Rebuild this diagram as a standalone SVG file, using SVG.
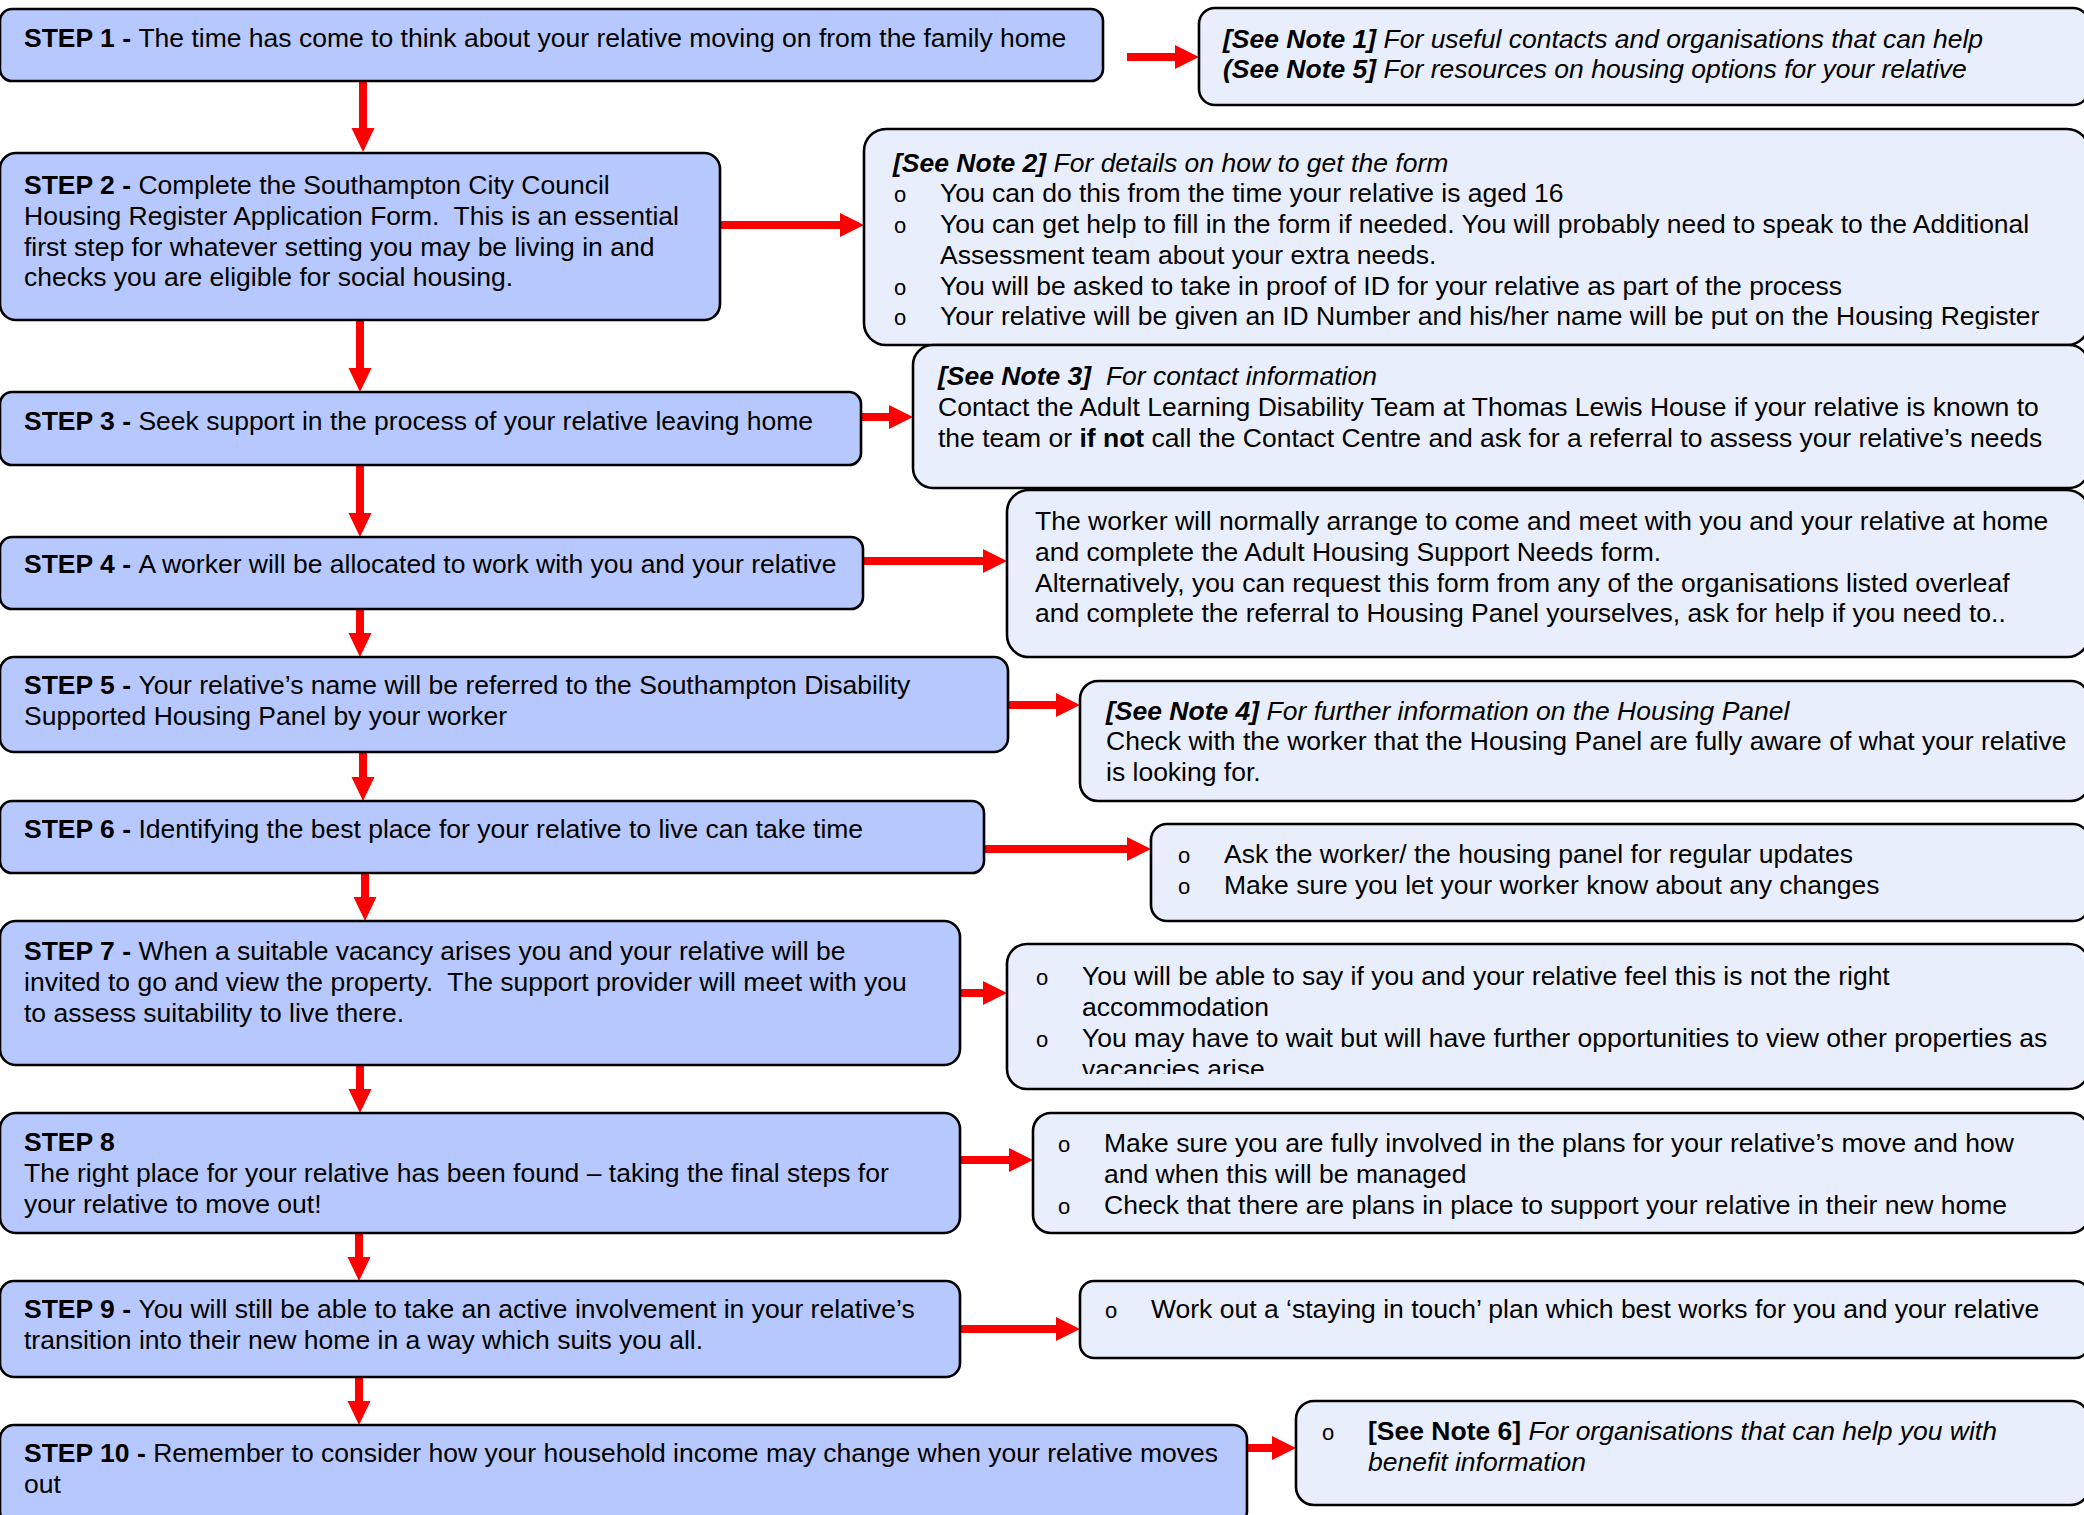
<svg xmlns="http://www.w3.org/2000/svg" width="2084" height="1515" viewBox="0 0 2084 1515" xml:space="preserve">
<style>
.step{fill:#B6C8FD;stroke:#000;stroke-width:2.6}
.note{fill:#E9EEFC;stroke:#000;stroke-width:2.6}
text{font-family:"Liberation Sans",Arial,sans-serif;font-size:26.5px;fill:#000;white-space:pre}
.b{font-weight:bold}
.i{font-style:italic}
.bi{font-weight:bold;font-style:italic}
.bul{font-size:22px}
.arr{fill:#FF0000;stroke:none}
</style>
<defs>
<clipPath id="clipN2"><rect x="860" y="120" width="1230" height="209"/></clipPath>
<clipPath id="clipN7"><rect x="1000" y="940" width="1090" height="134"/></clipPath>
</defs>
<rect width="2084" height="1515" fill="#FFFFFF"/>

<g id="connectors">
<polygon class="arr" points="359,81 367,81 367,128 374.5,128 363,152 351.5,128 359,128"/>
<polygon class="arr" points="356,320 364,320 364,368 371.5,368 360,392 348.5,368 356,368"/>
<polygon class="arr" points="356,465 364,465 364,513 371.5,513 360,537 348.5,513 356,513"/>
<polygon class="arr" points="356,609 364,609 364,633 371.5,633 360,657 348.5,633 356,633"/>
<polygon class="arr" points="359,752 367,752 367,777 374.5,777 363,801 351.5,777 359,777"/>
<polygon class="arr" points="361,873 369,873 369,897 376.5,897 365,921 353.5,897 361,897"/>
<polygon class="arr" points="356,1065 364,1065 364,1089 371.5,1089 360,1113 348.5,1089 356,1089"/>
<polygon class="arr" points="355,1233 363,1233 363,1257 370.5,1257 359,1281 347.5,1257 355,1257"/>
<polygon class="arr" points="355,1377 363,1377 363,1401 370.5,1401 359,1425 347.5,1401 355,1401"/>

<polygon class="arr" points="1127,53 1175,53 1175,45 1199,57 1175,69 1175,61 1127,61"/>
<polygon class="arr" points="720,221 840,221 840,213 864,225 840,237 840,229 720,229"/>
<polygon class="arr" points="862,413 889,413 889,405 913,417 889,429 889,421 862,421"/>
<polygon class="arr" points="864,557 983,557 983,549 1007,561 983,573 983,565 864,565"/>
<polygon class="arr" points="1008,701 1056,701 1056,693 1080,705 1056,717 1056,709 1008,709"/>
<polygon class="arr" points="984,845 1127,845 1127,837 1151,849 1127,861 1127,853 984,853"/>
<polygon class="arr" points="960,989 983,989 983,981 1007,993 983,1005 983,997 960,997"/>
<polygon class="arr" points="960,1156 1009,1156 1009,1148 1033,1160 1009,1172 1009,1164 960,1164"/>
<polygon class="arr" points="960,1325 1056,1325 1056,1317 1080,1329 1056,1341 1056,1333 960,1333"/>
<polygon class="arr" points="1247,1444 1272,1444 1272,1436 1296,1448 1272,1460 1272,1452 1247,1452"/>
</g>

<g id="step1">
<rect class="step" x="0" y="9" width="1103" height="72" rx="12"/>
<text x="24" y="47"><tspan class="b">STEP 1 - </tspan>The time has come to think about your relative moving on from the family home</text>
</g>
<g id="step2">
<rect class="step" x="0" y="153" width="720" height="167" rx="16"/>
<text x="24" y="194"><tspan class="b">STEP 2 - </tspan>Complete the Southampton City Council</text>
<text x="24" y="225">Housing Register Application Form.  This is an essential</text>
<text x="24" y="256">first step for whatever setting you may be living in and</text>
<text x="24" y="286">checks you are eligible for social housing.</text>
</g>
<g id="step3">
<rect class="step" x="0" y="392" width="861" height="73" rx="12"/>
<text x="24" y="430"><tspan class="b">STEP 3 - </tspan>Seek support in the process of your relative leaving home</text>
</g>
<g id="step4">
<rect class="step" x="0" y="537" width="863" height="72" rx="12"/>
<text x="24" y="573"><tspan class="b">STEP 4 - </tspan>A worker will be allocated to work with you and your relative</text>
</g>
<g id="step5">
<rect class="step" x="0" y="657" width="1008" height="95" rx="14"/>
<text x="24" y="694"><tspan class="b">STEP 5 - </tspan>Your relative’s name will be referred to the Southampton Disability</text>
<text x="24" y="725">Supported Housing Panel by your worker</text>
</g>
<g id="step6">
<rect class="step" x="0" y="801" width="984" height="72" rx="12"/>
<text x="24" y="838"><tspan class="b">STEP 6 - </tspan>Identifying the best place for your relative to live can take time</text>
</g>
<g id="step7">
<rect class="step" x="0" y="921" width="960" height="144" rx="16"/>
<text x="24" y="960"><tspan class="b">STEP 7 - </tspan>When a suitable vacancy arises you and your relative will be</text>
<text x="24" y="991">invited to go and view the property.  The support provider will meet with you</text>
<text x="24" y="1022">to assess suitability to live there.</text>
</g>
<g id="step8">
<rect class="step" x="0" y="1113" width="960" height="120" rx="16"/>
<text x="24" y="1151" class="b">STEP 8</text>
<text x="24" y="1182">The right place for your relative has been found – taking the final steps for</text>
<text x="24" y="1213">your relative to move out!</text>
</g>
<g id="step9">
<rect class="step" x="0" y="1281" width="960" height="96" rx="14"/>
<text x="24" y="1318"><tspan class="b">STEP 9 - </tspan>You will still be able to take an active involvement in your relative’s</text>
<text x="24" y="1349">transition into their new home in a way which suits you all.</text>
</g>
<g id="step10">
<rect class="step" x="0" y="1425" width="1247" height="100" rx="14"/>
<text x="24" y="1462"><tspan class="b">STEP 10 - </tspan>Remember to consider how your household income may change when your relative moves</text>
<text x="24" y="1493">out</text>
</g>

<g id="note1">
<rect class="note" x="1199" y="8" width="890" height="97" rx="16"/>
<text x="1223" y="48"><tspan class="bi">[See Note 1]</tspan><tspan class="i"> For useful contacts and organisations that can help</tspan></text>
<text x="1223" y="78"><tspan class="bi">(See Note 5]</tspan><tspan class="i"> For resources on housing options for your relative</tspan></text>
</g>
<g id="note2">
<rect class="note" x="864" y="129" width="1225" height="216" rx="22"/>
<g clip-path="url(#clipN2)">
<text x="893" y="172"><tspan class="bi">[See Note 2]</tspan><tspan class="i"> For details on how to get the form</tspan></text>
<text x="894" y="202" class="bul">o</text>
<text x="940" y="202">You can do this from the time your relative is aged 16</text>
<text x="894" y="233" class="bul">o</text>
<text x="940" y="233">You can get help to fill in the form if needed. You will probably need to speak to the Additional</text>
<text x="940" y="264">Assessment team about your extra needs.</text>
<text x="894" y="295" class="bul">o</text>
<text x="940" y="295">You will be asked to take in proof of ID for your relative as part of the process</text>
<text x="894" y="325" class="bul">o</text>
<text x="940" y="325">Your relative will be given an ID Number and his/her name will be put on the Housing Register</text>
</g>
</g>
<g id="note3">
<rect class="note" x="913" y="345" width="1176" height="143" rx="20"/>
<text x="938" y="385"><tspan class="bi">[See Note 3]</tspan><tspan class="i">  For contact information</tspan></text>
<text x="938" y="416">Contact the Adult Learning Disability Team at Thomas Lewis House if your relative is known to</text>
<text x="938" y="447">the team or <tspan class="b">if not</tspan> call the Contact Centre and ask for a referral to assess your relative’s needs</text>
</g>
<g id="note4">
<rect class="note" x="1007" y="490" width="1082" height="167" rx="22"/>
<text x="1035" y="530">The worker will normally arrange to come and meet with you and your relative at home</text>
<text x="1035" y="561">and complete the Adult Housing Support Needs form.</text>
<text x="1035" y="592">Alternatively, you can request this form from any of the organisations listed overleaf</text>
<text x="1035" y="622">and complete the referral to Housing Panel yourselves, ask for help if you need to..</text>
</g>
<g id="note5">
<rect class="note" x="1080" y="681" width="1009" height="120" rx="18"/>
<text x="1106" y="720"><tspan class="bi">[See Note 4]</tspan><tspan class="i"> For further information on the Housing Panel</tspan></text>
<text x="1106" y="750">Check with the worker that the Housing Panel are fully aware of what your relative</text>
<text x="1106" y="781">is looking for.</text>
</g>
<g id="note6">
<rect class="note" x="1151" y="824" width="938" height="97" rx="16"/>
<text x="1178" y="863" class="bul">o</text>
<text x="1224" y="863">Ask the worker/ the housing panel for regular updates</text>
<text x="1178" y="894" class="bul">o</text>
<text x="1224" y="894">Make sure you let your worker know about any changes</text>
</g>
<g id="note7">
<rect class="note" x="1007" y="944" width="1082" height="145" rx="20"/>
<g clip-path="url(#clipN7)">
<text x="1036" y="985" class="bul">o</text>
<text x="1082" y="985">You will be able to say if you and your relative feel this is not the right</text>
<text x="1082" y="1016">accommodation</text>
<text x="1036" y="1047" class="bul">o</text>
<text x="1082" y="1047">You may have to wait but will have further opportunities to view other properties as</text>
<text x="1082" y="1078">vacancies arise</text>
</g>
</g>
<g id="note8">
<rect class="note" x="1033" y="1113" width="1056" height="120" rx="18"/>
<text x="1058" y="1152" class="bul">o</text>
<text x="1104" y="1152">Make sure you are fully involved in the plans for your relative’s move and how</text>
<text x="1104" y="1183">and when this will be managed</text>
<text x="1058" y="1214" class="bul">o</text>
<text x="1104" y="1214">Check that there are plans in place to support your relative in their new home</text>
</g>
<g id="note9">
<rect class="note" x="1080" y="1281" width="1009" height="77" rx="14"/>
<text x="1105" y="1318" class="bul">o</text>
<text x="1151" y="1318">Work out a ‘staying in touch’ plan which best works for you and your relative</text>
</g>
<g id="note10">
<rect class="note" x="1296" y="1401" width="793" height="104" rx="18"/>
<text x="1322" y="1440" class="bul">o</text>
<text x="1368" y="1440"><tspan class="b">[See Note 6]</tspan><tspan class="i"> For organisations that can help you with</tspan></text>
<text x="1368" y="1471" class="i">benefit information</text>
</g>
</svg>
